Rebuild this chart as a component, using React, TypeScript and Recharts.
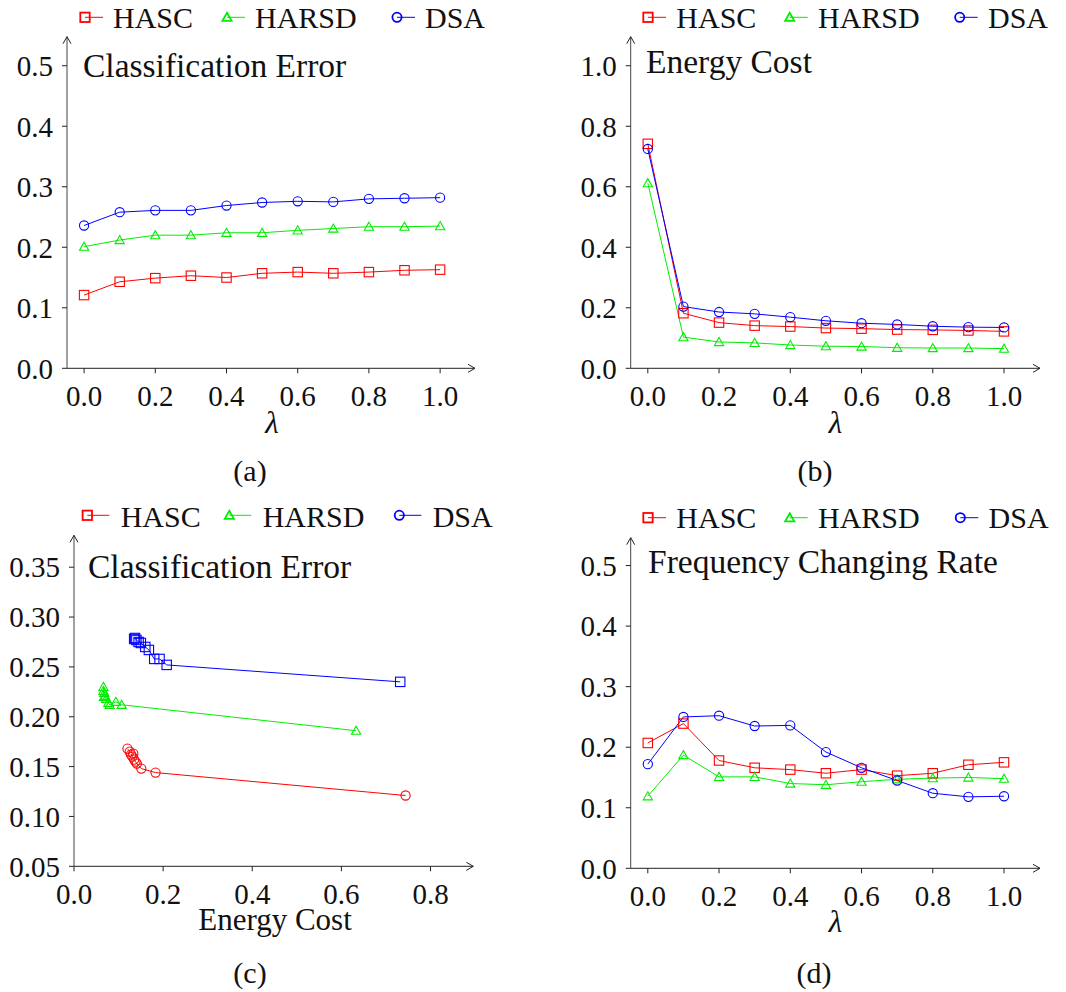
import React from "react";
import { LineChart, Line, XAxis, YAxis, ReferenceDot } from "recharts";

const lambdas = [0, 0.1, 0.2, 0.3, 0.4, 0.5, 0.6, 0.7, 0.8, 0.9, 1.0];

// (a) classification error vs lambda
const errorHASC = [0.121, 0.143, 0.149, 0.153, 0.15, 0.157, 0.159, 0.157, 0.159, 0.162, 0.163];
const errorHARSD = [0.201, 0.212, 0.22, 0.22, 0.224, 0.224, 0.228, 0.231, 0.234, 0.234, 0.235];
const errorDSA = [0.236, 0.258, 0.261, 0.261, 0.269, 0.274, 0.276, 0.275, 0.28, 0.281, 0.282];

// (b) energy cost vs lambda
const energyHASC = [0.742, 0.182, 0.151, 0.141, 0.138, 0.133, 0.131, 0.128, 0.127, 0.125, 0.122];
const energyHARSD = [0.612, 0.103, 0.087, 0.084, 0.077, 0.073, 0.072, 0.068, 0.067, 0.067, 0.065];
const energyDSA = [0.725, 0.204, 0.186, 0.18, 0.169, 0.157, 0.149, 0.145, 0.139, 0.136, 0.135];

// (c) error vs energy cost
const tradeHASCx = [0.744, 0.183, 0.151, 0.141, 0.138, 0.135, 0.131, 0.128, 0.133, 0.125, 0.12];
const tradeHASCy = [0.121, 0.144, 0.148, 0.153, 0.155, 0.157, 0.16, 0.162, 0.163, 0.165, 0.168];
const tradeHARSDx = [0.633, 0.107, 0.094, 0.08, 0.077, 0.072, 0.07, 0.068, 0.067, 0.066, 0.066];
const tradeHARSDy = [0.186, 0.212, 0.215, 0.212, 0.214, 0.218, 0.221, 0.224, 0.22, 0.226, 0.23];
const tradeDSAx = [0.732, 0.208, 0.192, 0.18, 0.168, 0.16, 0.15, 0.145, 0.14, 0.137, 0.135];
const tradeDSAy = [0.235, 0.252, 0.258, 0.258, 0.267, 0.27, 0.274, 0.275, 0.277, 0.279, 0.278];

// (d) frequency changing rate vs lambda
const rateHASC = [0.207, 0.239, 0.178, 0.166, 0.163, 0.157, 0.163, 0.153, 0.157, 0.171, 0.175];
const rateHARSD = [0.119, 0.187, 0.151, 0.151, 0.14, 0.138, 0.143, 0.147, 0.149, 0.15, 0.148];
const rateDSA = [0.172, 0.25, 0.252, 0.235, 0.236, 0.192, 0.166, 0.145, 0.124, 0.118, 0.119];

const lambdaTicks = [0, 0.2, 0.4, 0.6, 0.8, 1.0];

const RED = "#ff0000";
const GREEN = "#00ee00";
const BLUE = "#0000ff";
const AXIS = "#222";
const FONT = '"Liberation Serif", "Times New Roman", serif';

const zip = (xs, ys) => xs.map((x, i) => ({ x, y: ys[i] }));

function Marker({ kind, cx, cy, color, sw = 1.1 }) {
  if (cx == null || cy == null) return null;
  if (kind === "square")
    return <rect x={cx - 4.7} y={cy - 4.7} width={9.4} height={9.4} fill="none" stroke={color} strokeWidth={sw} />;
  if (kind === "triangle")
    return (
      <path
        d={`M${cx},${cy - 4.5} L${cx + 4.6},${cy + 3.6} L${cx - 4.6},${cy + 3.6} Z`}
        fill="none"
        stroke={color}
        strokeWidth={sw}
      />
    );
  return <circle cx={cx} cy={cy} r={4.6} fill="none" stroke={color} strokeWidth={sw} />;
}

const legendItems = [
  { name: "HASC", color: RED, marker: "square" },
  { name: "HARSD", color: GREEN, marker: "triangle" },
  { name: "DSA", color: BLUE, marker: "circle" },
];

const tickTextStyle = { fontFamily: FONT, fontSize: 29 };

// serif tick labels
function XTick({ x, y, payload }) {
  return (
    <text x={x} y={y} dy="0.71em" textAnchor="middle" style={tickTextStyle} fill="#111">
      {payload.value.toFixed(1)}
    </text>
  );
}

function makeYTick(digits) {
  return function YTick({ x, y, payload }) {
    return (
      <text x={x} y={y} dy="0.355em" textAnchor="end" style={tickTextStyle} fill="#111">
        {payload.value.toFixed(digits)}
      </text>
    );
  };
}

function Panel(p) {
  const YTick = makeYTick(p.yDigits);
  return (
    <div style={{ position: "absolute", left: p.left, top: p.top, width: 533, height: 496 }}>
      <LineChart width={533} height={496} margin={p.margin}>
        <XAxis
          type="number"
          dataKey="x"
          domain={p.xDomain}
          ticks={p.xTicks}
          allowDataOverflow
          height={40}
          tickSize={5}
          tickMargin={12}
          axisLine={{ stroke: AXIS }}
          tickLine={{ stroke: AXIS }}
          tick={<XTick />}
        />
        <YAxis
          type="number"
          domain={p.yDomain}
          ticks={p.yTicks}
          allowDataOverflow
          width={60}
          tickSize={5}
          tickMargin={9}
          axisLine={{ stroke: "#444" }}
          tickLine={{ stroke: AXIS }}
          tick={<YTick />}
        />
        {p.series.map((s) => (
          <Line
            key={s.name}
            data={s.data}
            dataKey="y"
            stroke={s.color}
            strokeWidth={1}
            isAnimationActive={false}
            activeDot={false}
            dot={(d) => (
              <Marker key={`${s.name}-${d.index}`} kind={s.marker} cx={d.cx} cy={d.cy} color={s.color} />
            )}
          />
        ))}
        <ReferenceDot
          x={p.xDomain[1]}
          y={p.yDomain[0]}
          ifOverflow="visible"
          shape={(d) => (
            <path
              d={`M${d.cx - 7},${d.cy - 4} L${d.cx},${d.cy} L${d.cx - 7},${d.cy + 4}`}
              fill="none"
              stroke={AXIS}
            />
          )}
        />
        <ReferenceDot
          x={p.xDomain[0]}
          y={p.yDomain[1]}
          ifOverflow="visible"
          shape={(d) => (
            <path
              d={`M${d.cx - 4},${d.cy + 7} L${d.cx},${d.cy} L${d.cx + 4},${d.cy + 7}`}
              fill="none"
              stroke={AXIS}
            />
          )}
        />
      </LineChart>
      <svg
        width={533}
        height={496}
        style={{ position: "absolute", left: 0, top: 0, pointerEvents: "none", fontFamily: FONT }}
        fill="#111"
      >
        {legendItems.map((it, i) => {
          const cx = p.legend.xs[i];
          return (
            <g key={it.name}>
              <line x1={cx} y1={p.legend.iconY} x2={cx + p.legend.lineLen} y2={p.legend.iconY} stroke={it.color} strokeWidth={1} />
              <Marker kind={it.marker} cx={cx} cy={p.legend.iconY} color={it.color} sw={1.8} />
              <text x={cx + p.legend.textOff} y={p.legend.baseline} fontSize={30}>
                {it.name}
              </text>
            </g>
          );
        })}
        <text x={p.title.x} y={p.title.y} fontSize={33.5}>
          {p.title.text}
        </text>
        <text
          x={p.xLabel.x}
          y={p.xLabel.y}
          fontSize={31}
          textAnchor="middle"
          fontStyle={p.xLabel.italic ? "italic" : "normal"}
        >
          {p.xLabel.text}
        </text>
        <text x={p.caption.x} y={p.caption.y} fontSize={30} textAnchor="middle">
          {p.caption.text}
        </text>
      </svg>
    </div>
  );
}

export default function App() {
  const lam = { text: "λ", italic: true };
  return (
    <div style={{ position: "absolute", left: 0, top: 0, width: 1066, height: 992, background: "#fff" }}>
      <Panel
        left={0}
        top={0}
        margin={{ top: 36.7, right: 58, left: 7, bottom: 87.7 }}
        xDomain={[-0.048, 1.098]}
        xTicks={lambdaTicks}
        yDomain={[0, 0.548]}
        yTicks={[0, 0.1, 0.2, 0.3, 0.4, 0.5]}
        yDigits={1}
        series={[
          { name: "HASC", color: RED, marker: "square", data: zip(lambdas, errorHASC) },
          { name: "HARSD", color: GREEN, marker: "triangle", data: zip(lambdas, errorHARSD) },
          { name: "DSA", color: BLUE, marker: "circle", data: zip(lambdas, errorDSA) },
        ]}
        legend={{ xs: [85, 227, 397], iconY: 17.3, baseline: 27.5, lineLen: 18, textOff: 28 }}
        title={{ text: "Classification Error", x: 83, y: 77.3 }}
        xLabel={{ ...lam, x: 272, y: 433 }}
        caption={{ text: "(a)", x: 250, y: 481 }}
      />
      <Panel
        left={533}
        top={0}
        margin={{ top: 36.7, right: 26, left: 37.7, bottom: 87.7 }}
        xDomain={[-0.048, 1.101]}
        xTicks={lambdaTicks}
        yDomain={[0, 1.096]}
        yTicks={[0, 0.2, 0.4, 0.6, 0.8, 1.0]}
        yDigits={1}
        series={[
          { name: "HASC", color: RED, marker: "square", data: zip(lambdas, energyHASC) },
          { name: "HARSD", color: GREEN, marker: "triangle", data: zip(lambdas, energyHARSD) },
          { name: "DSA", color: BLUE, marker: "circle", data: zip(lambdas, energyDSA) },
        ]}
        legend={{ xs: [115, 256.7, 426.7], iconY: 17.3, baseline: 27.5, lineLen: 18, textOff: 28.3 }}
        title={{ text: "Energy Cost", x: 113, y: 73.3 }}
        xLabel={{ ...lam, x: 302.5, y: 433 }}
        caption={{ text: "(b)", x: 282, y: 481 }}
      />
      <Panel
        left={0}
        top={496}
        margin={{ top: 39.3, right: 59.7, left: 14, bottom: 85.7 }}
        xDomain={[0, 0.896]}
        xTicks={[0, 0.2, 0.4, 0.6, 0.8]}
        yDomain={[0.05, 0.382]}
        yTicks={[0.05, 0.1, 0.15, 0.2, 0.25, 0.3, 0.35]}
        yDigits={2}
        series={[
          { name: "HASC", color: RED, marker: "circle", data: zip(tradeHASCx, tradeHASCy) },
          { name: "HARSD", color: GREEN, marker: "triangle", data: zip(tradeHARSDx, tradeHARSDy) },
          { name: "DSA", color: BLUE, marker: "square", data: zip(tradeDSAx, tradeDSAy) },
        ]}
        legend={{ xs: [87.3, 229.3, 399.3], iconY: 19.3, baseline: 30.7, lineLen: 22, textOff: 33.4 }}
        title={{ text: "Classification Error", x: 88, y: 81.7 }}
        xLabel={{ text: "Energy Cost", italic: false, x: 275, y: 434 }}
        caption={{ text: "(c)", x: 250, y: 487 }}
      />
      <Panel
        left={533}
        top={496}
        margin={{ top: 41.7, right: 26, left: 37.7, bottom: 83.7 }}
        xDomain={[-0.048, 1.101]}
        xTicks={lambdaTicks}
        yDomain={[0, 0.546]}
        yTicks={[0, 0.1, 0.2, 0.3, 0.4, 0.5]}
        yDigits={1}
        series={[
          { name: "HASC", color: RED, marker: "square", data: zip(lambdas, rateHASC) },
          { name: "HARSD", color: GREEN, marker: "triangle", data: zip(lambdas, rateHARSD) },
          { name: "DSA", color: BLUE, marker: "circle", data: zip(lambdas, rateDSA) },
        ]}
        legend={{ xs: [115, 256.7, 427.3], iconY: 21.7, baseline: 32.3, lineLen: 18, textOff: 28.3 }}
        title={{ text: "Frequency Changing Rate", x: 115, y: 77.3 }}
        xLabel={{ ...lam, x: 302.5, y: 436 }}
        caption={{ text: "(d)", x: 281, y: 487 }}
      />
    </div>
  );
}
